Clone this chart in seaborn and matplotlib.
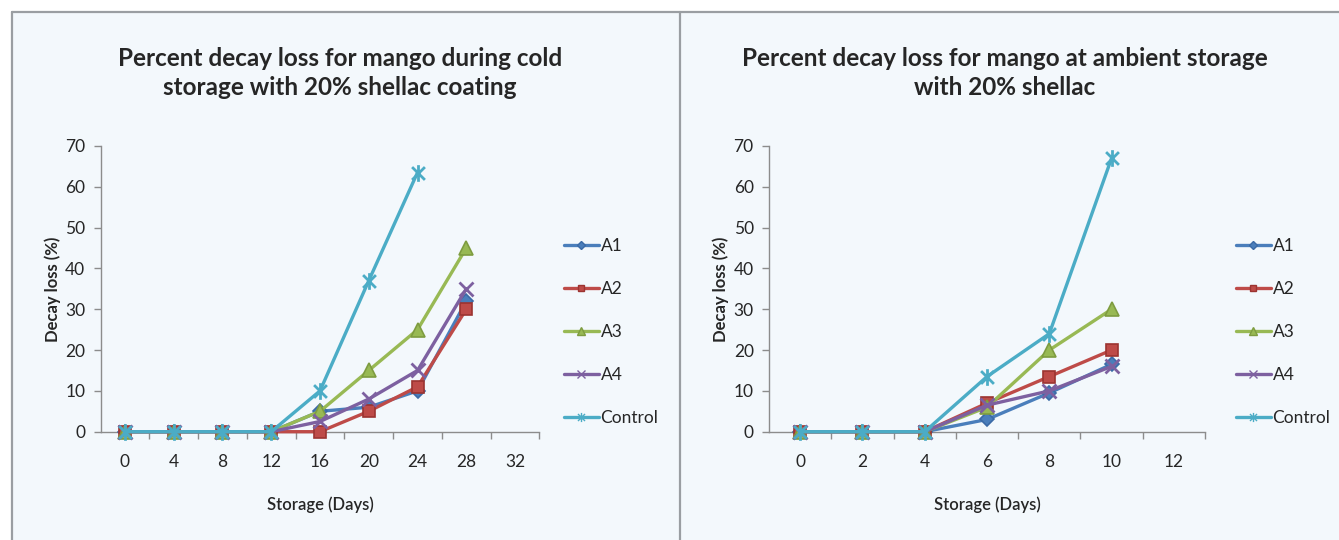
import numpy as np
import pandas as pd
import matplotlib
matplotlib.use("Agg")
import matplotlib.pyplot as plt
from matplotlib.path import Path
from matplotlib.lines import Line2D
from matplotlib.patches import Rectangle
import seaborn as sns

# ---- data -------------------------------------------------------------
series = ["A1", "A2", "A3", "A4", "Control"]

cold_days = [0, 4, 8, 12, 16, 20, 24, 28]
cold_ticks = [0, 4, 8, 12, 16, 20, 24, 28, 32]
cold_A1 = [0, 0, 0, 0, 5, 6, 10, 32]
cold_A2 = [0, 0, 0, 0, 0, 5, 11, 30]
cold_A3 = [0, 0, 0, 0, 5, 15, 25, 45]
cold_A4 = [0, 0, 0, 0, 2.5, 8, 15, 35]
cold_control = [0, 0, 0, 0, 10, 37, 63.5, np.nan]

amb_days = [0, 2, 4, 6, 8, 10]
amb_ticks = [0, 2, 4, 6, 8, 10, 12]
amb_A1 = [0, 0, 0, 3, 9.5, 16.5]
amb_A2 = [0, 0, 0, 7, 13.5, 20]
amb_A3 = [0, 0, 0, 6, 20, 30]
amb_A4 = [0, 0, 0, 6.5, 10, 16]
amb_control = [0, 0, 0, 13.5, 24, 67]

y_ticks = [0, 10, 20, 30, 40, 50, 60, 70]

title_cold = "Percent decay loss for mango during cold\nstorage with 20% shellac coating"
title_amb = "Percent decay loss for mango at ambient storage\nwith 20% shellac"
x_label = "Storage (Days)"
y_label = "Decay loss (%)"

# ---- style ------------------------------------------------------------
sns.set_theme(style="ticks")
plt.rcParams["font.family"] = ["Lato", "DejaVu Sans"]

colors = {"A1": "#4a7ebb", "A2": "#be4b48", "A3": "#98b954",
          "A4": "#7d60a0", "Control": "#4bacc6"}
edge = {"A1": "#3b6aa6", "A2": "#9c3431", "A3": "#7e9c40",
        "A4": "#7d60a0", "Control": "#4bacc6"}

# asterisk-like marker: an x crossed by a vertical stroke
star = Path([(-1, -1), (1, 1), (-1, 1), (1, -1), (0, -1.3), (0, 1.3)],
            [Path.MOVETO, Path.LINETO, Path.MOVETO, Path.LINETO,
             Path.MOVETO, Path.LINETO])
markers = {"A1": "D", "A2": "s", "A3": "^", "A4": "x", "Control": star}
msize = {"A1": 7, "A2": 8.5, "A3": 9.5, "A4": 10, "Control": 12}

W, H = 1339, 540
fig = plt.figure(figsize=(W / 100, H / 100), dpi=100)
fig.patch.set_facecolor("white")

# panel backgrounds and borders
panel_bg = "#f3f8fc"
frame_c = "#9a9ea2"
fig.add_artist(Rectangle((12 / W, 0), (680 - 12) / W, (H - 12) / H,
                         transform=fig.transFigure, facecolor=panel_bg,
                         edgecolor="none", zorder=-10))
fig.add_artist(Rectangle((680 / W, 0), (W - 680) / W, (H - 12) / H,
                         transform=fig.transFigure, facecolor=panel_bg,
                         edgecolor="none", zorder=-10))
fig.add_artist(Line2D([12 / W, 1], [1 - 12 / H, 1 - 12 / H],
                      transform=fig.transFigure, color=frame_c, lw=1.6))
fig.add_artist(Line2D([12 / W, 12 / W], [0, 1 - 12 / H],
                      transform=fig.transFigure, color=frame_c, lw=1.6))
fig.add_artist(Line2D([680 / W, 680 / W], [0, 1 - 12 / H],
                      transform=fig.transFigure, color=frame_c, lw=1.6))

ax_cold = fig.add_axes([100.6 / W, 108.3 / H, 438.8 / W, 285.7 / H])
ax_amb = fig.add_axes([769 / W, 108.3 / H, 436 / W, 285.7 / H])

panels = [
    (ax_cold, cold_days, cold_ticks,
     {"A1": cold_A1, "A2": cold_A2, "A3": cold_A3, "A4": cold_A4,
      "Control": cold_control}, title_cold, 340, 600),
    (ax_amb, amb_days, amb_ticks,
     {"A1": amb_A1, "A2": amb_A2, "A3": amb_A3, "A4": amb_A4,
      "Control": amb_control}, title_amb, 1005, 1272),
]

text_c = "#262626"
axis_c = "#8c8c8c"

for ax, days, ticks, data, title, title_x, leg_x in panels:
    ax.set_facecolor("none")
    for name in series:
        df = pd.DataFrame({"day": days, "value": data[name]}).dropna()
        sns.lineplot(data=df, x="day", y="value", ax=ax, color=colors[name],
                     marker=markers[name], markersize=msize[name],
                     markeredgecolor=edge[name],
                     markeredgewidth=2.0 if name in ("A4", "Control") else 1.2,
                     linewidth=2.4, label=name, legend=False, clip_on=False,
                     zorder=3)

    step = ticks[1] - ticks[0]
    ax.set_xlim(ticks[0] - step / 2, ticks[-1] + step / 2)
    ax.set_ylim(0, 70)
    ax.set_xticks(ticks)
    ax.set_xticklabels([str(t) for t in ticks])
    ax.set_xticks(np.arange(ticks[0] + step / 2, ticks[-1] + step, step),
                  minor=True)
    ax.set_yticks(y_ticks)
    ax.tick_params(axis="x", which="major", length=0, pad=16,
                   labelsize=12.5, labelcolor=text_c)
    ax.tick_params(axis="x", which="minor", length=5, width=1,
                   color=axis_c, direction="out")
    ax.tick_params(axis="y", length=5, width=1, color=axis_c, pad=6,
                   labelsize=12.5, labelcolor=text_c)
    sns.despine(ax=ax)
    for s in ("left", "bottom"):
        ax.spines[s].set_color(axis_c)
        ax.spines[s].set_linewidth(1)
    ax.set_xlabel(x_label, fontsize=12, fontweight="semibold", color=text_c,
                  labelpad=19)
    ax.set_ylabel(y_label, fontsize=12, fontweight="bold", color=text_c,
                  labelpad=3)

    fig.text(title_x / W, 1 - 73 / H, title, ha="center", va="center",
             fontsize=17.5, fontweight="bold", color=text_c, linespacing=1.35)

    handles = [Line2D([], [], color=colors[n], marker=markers[n],
                      markersize=msize[n] * 0.55, markeredgecolor=edge[n],
                      markeredgewidth=1.0, linewidth=2.4) for n in series]
    ax.legend(handles, series, loc="center left",
              bbox_to_anchor=((leg_x - 36) / W, 1 - 332 / H),
              bbox_transform=fig.transFigure, frameon=False,
              borderaxespad=0, borderpad=0, handlelength=2.0,
              handletextpad=0.1, labelspacing=1.55, fontsize=12.5,
              labelcolor=text_c)

fig.savefig("out.png", dpi=100, facecolor=fig.get_facecolor())
